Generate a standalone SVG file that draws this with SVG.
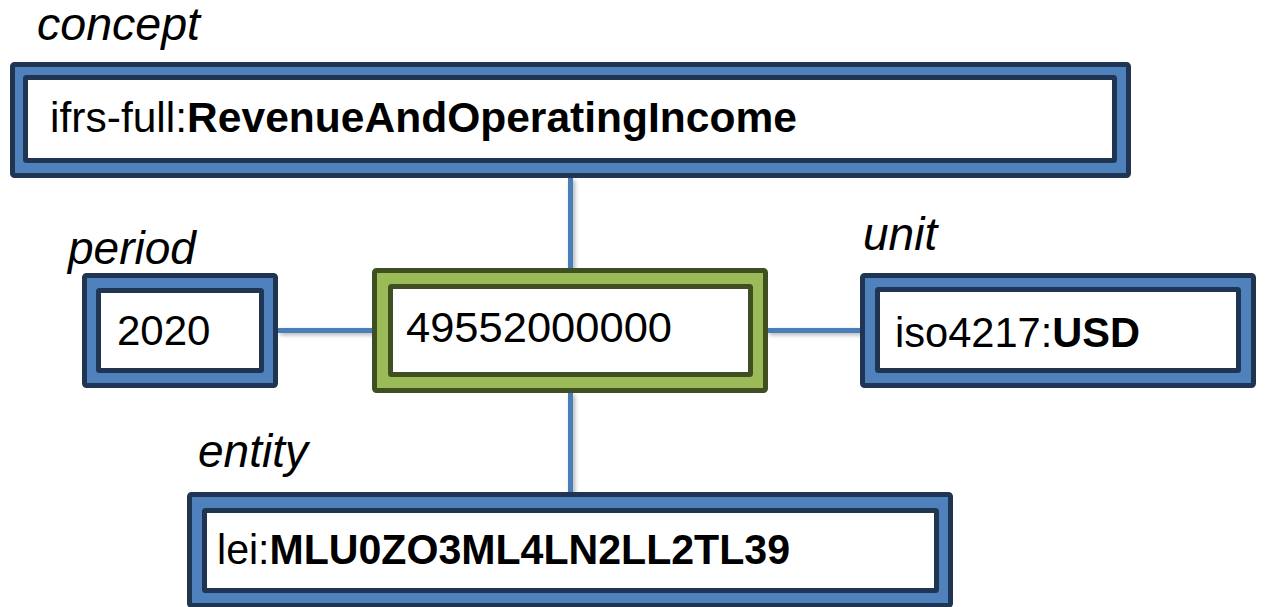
<svg xmlns="http://www.w3.org/2000/svg" width="1265" height="607" viewBox="0 0 1265 607">
<style>
.outer{fill:#4F81BD;stroke:#1F3552;stroke-width:5;}
.inner{fill:#FFFFFF;stroke:#1F3552;stroke-width:5;}
.gouter{fill:#9BBB59;stroke:#3F4F22;stroke-width:5;}
.ginner{fill:#FFFFFF;stroke:#3F4F22;stroke-width:5;}
.val{font-family:"Liberation Sans",Arial,sans-serif;font-size:42px;fill:#000;}
.b{font-weight:bold;}
.lbl{font-family:"Liberation Sans",Arial,sans-serif;font-size:46px;font-style:italic;fill:#000;}
.conn{stroke:#4A7EBB;stroke-width:5;fill:none;}
</style>
<defs>
<filter id="sh" x="-50%" y="-50%" width="200%" height="200%">
<feDropShadow dx="2" dy="2" stdDeviation="2" flood-color="#000" flood-opacity="0.3"/>
</filter>
</defs>
<g id="connectors" filter="url(#sh)">
<line class="conn" x1="570.5" y1="178" x2="570.5" y2="270"/>
<line class="conn" x1="570.5" y1="393" x2="570.5" y2="493"/>
<line class="conn" x1="278" y1="330.5" x2="373" y2="330.5"/>
<line class="conn" x1="767" y1="330.5" x2="861" y2="330.5"/>
</g>
<g id="concept">
<text class="lbl" x="37" y="40" textLength="163" lengthAdjust="spacingAndGlyphs">concept</text>
<rect class="outer" x="12.5" y="64.5" width="1116" height="111" rx="2"/>
<rect class="inner" x="25.5" y="77.5" width="1089" height="83" rx="1"/>
<text class="val" x="50" y="132" textLength="747" lengthAdjust="spacingAndGlyphs">ifrs-full:<tspan class="b">RevenueAndOperatingIncome</tspan></text>
</g>
<g id="period">
<text class="lbl" x="68" y="264">period</text>
<rect class="outer" x="84.5" y="275.5" width="191" height="110" rx="2"/>
<rect class="inner" x="98.5" y="290.5" width="163" height="80" rx="1"/>
<text class="val" x="117" y="345">2020</text>
</g>
<g id="fact">
<rect class="gouter" x="374.5" y="270.5" width="391" height="120" rx="2"/>
<rect class="ginner" x="390.5" y="286.5" width="360" height="88" rx="1"/>
<text class="val" x="406" y="342" textLength="266" lengthAdjust="spacingAndGlyphs">49552000000</text>
</g>
<g id="unit">
<text class="lbl" x="863" y="250">unit</text>
<rect class="outer" x="862.5" y="275.5" width="391" height="110" rx="2"/>
<rect class="inner" x="877.5" y="289.5" width="361" height="81" rx="1"/>
<text class="val" x="895" y="347" textLength="245" lengthAdjust="spacingAndGlyphs">iso4217:<tspan class="b">USD</tspan></text>
</g>
<g id="entity">
<text class="lbl" x="198" y="467">entity</text>
<rect class="outer" x="189.5" y="494.5" width="761" height="111" rx="2"/>
<rect class="inner" x="204.5" y="510.5" width="732" height="80" rx="1"/>
<text class="val" x="217" y="564" textLength="573" lengthAdjust="spacingAndGlyphs">lei:<tspan class="b">MLU0ZO3ML4LN2LL2TL39</tspan></text>
</g>
</svg>
